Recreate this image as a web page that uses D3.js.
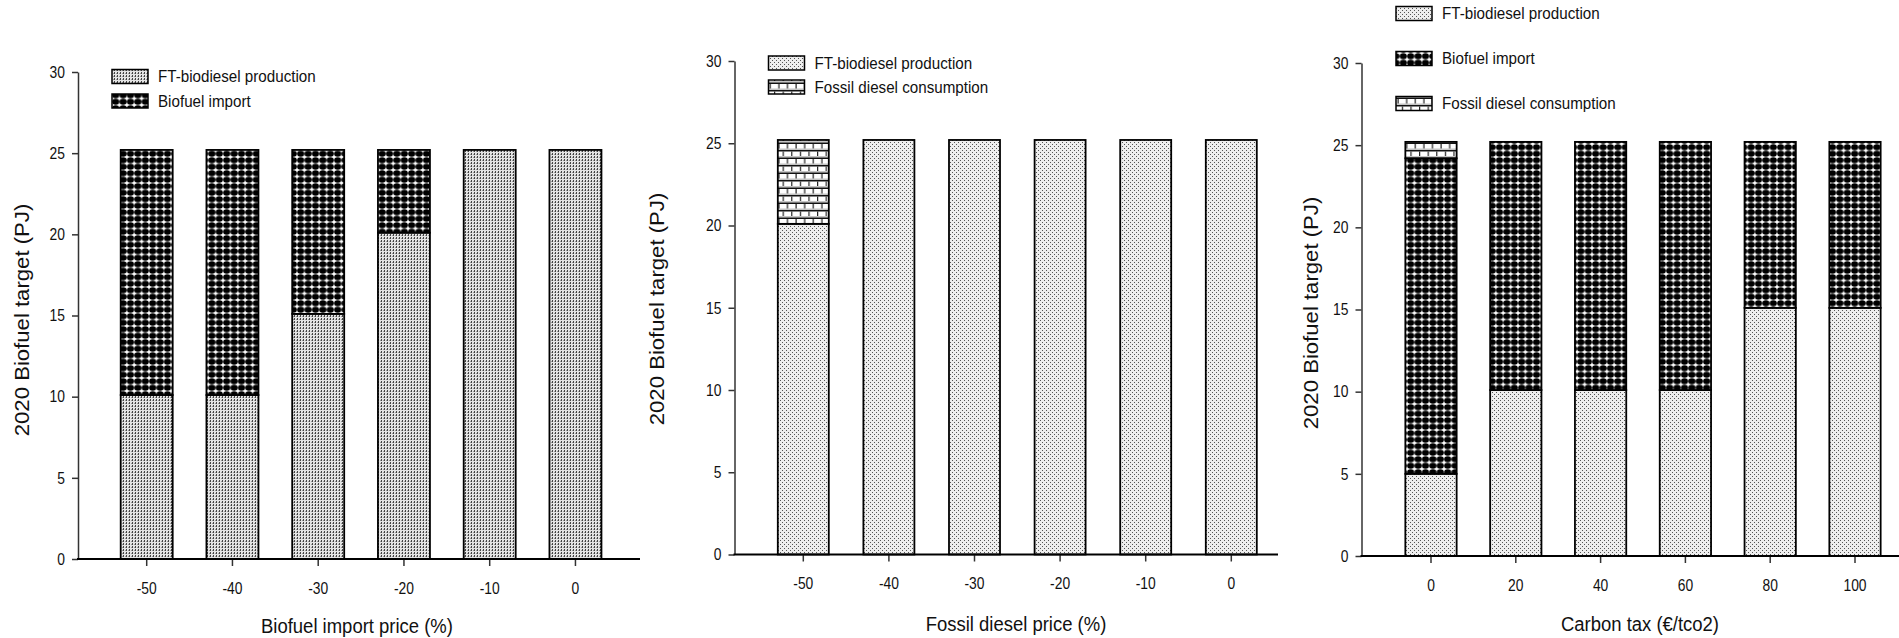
<!DOCTYPE html>
<html>
<head>
<meta charset="utf-8">
<script src="https://cdn.jsdelivr.net/npm/d3@7"></script>
<style>
  html, body { margin: 0; padding: 0; background: #fff; }
  svg { display: block; }
  text { font-family: "Liberation Sans", Arial, sans-serif; }
</style>
</head>
<body>
<svg id="chart" width="1899" height="638"></svg>
<script>
// Scenario categories
const importPriceCats = ["-50", "-40", "-30", "-20", "-10", "0"];
const fossilPriceCats = ["-50", "-40", "-30", "-20", "-10", "0"];
const carbonTaxCats = ["0", "20", "40", "60", "80", "100"];

// Biofuel import price scenarios (PJ)
const importFT = [10.1, 10.1, 15.1, 20.1, 25.2, 25.2];
const importImport = [15.1, 15.1, 10.1, 5.1, 0, 0];

// Fossil diesel price scenarios (PJ)
const fossilFT = [20.1, 25.2, 25.2, 25.2, 25.2, 25.2];
const fossilDiesel = [5.1, 0, 0, 0, 0, 0];

// Carbon tax scenarios (PJ)
const carbonFT = [5.0, 10.1, 10.1, 10.1, 15.1, 15.1];
const carbonImport = [19.2, 15.1, 15.1, 15.1, 10.1, 10.1];
const carbonDiesel = [1.0, 0, 0, 0, 0, 0];

const yTicks = [0, 5, 10, 15, 20, 25, 30];

const svg = d3.select("#chart");
const defs = svg.append("defs");

// horizontally condensed text: position stays put, glyphs are squeezed
function condense(sel, sx) {
  sel.each(function () {
    const t = d3.select(this);
    const x = +(t.attr("x") || 0);
    t.attr("x", x / sx).attr("transform", `scale(${sx},1)`);
  });
}

// --- fill patterns ---
// FT production, vertical dotted stripes
{
  const p = defs.append("pattern").attr("id", "ftStripe").attr("patternUnits", "userSpaceOnUse")
    .attr("width", 3).attr("height", 3);
  p.append("rect").attr("width", 3).attr("height", 3).attr("fill", "#e4e4e4");
  p.append("rect").attr("x", 0).attr("y", 0).attr("width", 1).attr("height", 2).attr("fill", "#444");
  p.append("rect").attr("x", 2).attr("y", 1).attr("width", 1).attr("height", 1).attr("fill", "#9a9a9a");
}
// FT production, fine stipple
{
  const p = defs.append("pattern").attr("id", "ftDots").attr("patternUnits", "userSpaceOnUse")
    .attr("width", 4).attr("height", 4);
  p.append("rect").attr("width", 4).attr("height", 4).attr("fill", "#eeeeee");
  p.append("rect").attr("x", 0).attr("y", 0).attr("width", 1).attr("height", 1).attr("fill", "#555");
  p.append("rect").attr("x", 2).attr("y", 2).attr("width", 1).attr("height", 1).attr("fill", "#555");
}
// Biofuel import, black dot grid
{
  const w = 7.4, h = 6.5;
  const p = defs.append("pattern").attr("id", "imp").attr("patternUnits", "userSpaceOnUse")
    .attr("width", w).attr("height", h).attr("x", 1).attr("y", 1);
  p.append("rect").attr("width", w).attr("height", h).attr("fill", "#fff");
  p.append("ellipse").attr("cx", w / 2).attr("cy", h / 2).attr("rx", 3.55).attr("ry", 2.95).attr("fill", "#000");
}
// Fossil diesel, brick
{
  const w = 8.6, rh = 7.5;
  const p = defs.append("pattern").attr("id", "brick").attr("patternUnits", "userSpaceOnUse")
    .attr("width", w).attr("height", rh * 2);
  p.append("rect").attr("width", w).attr("height", rh * 2).attr("fill", "#fff");
  [0, 1].forEach(r => {
    const y0 = r * rh;
    p.append("rect").attr("x", 0).attr("y", y0).attr("width", w).attr("height", 1.5).attr("fill", "#111");
    p.append("rect").attr("x", 0).attr("y", y0 + 6).attr("width", w).attr("height", 1.5).attr("fill", "#c4c4c4");
    p.append("rect").attr("x", r ? w / 2 : 0).attr("y", y0 + 1.5).attr("width", 1.2).attr("height", 4.5).attr("fill", "#222");
  });
}

function drawPanel(cfg) {
  const g = svg.append("g");
  const y = d3.scaleLinear().domain([0, 30]).range([cfg.y0, cfg.y30]);
  const n = cfg.cats.length;
  const x = d3.scaleBand().domain(cfg.cats)
    .range([cfg.firstTick - cfg.step / 2, cfg.firstTick - cfg.step / 2 + cfg.step * n])
    .paddingInner(1 - cfg.barW / cfg.step).paddingOuter((1 - cfg.barW / cfg.step) / 2);

  const rows = cfg.cats.map((c, i) => {
    const r = { cat: c };
    cfg.series.forEach(s => r[s.key] = s.values[i]);
    return r;
  });
  const stack = d3.stack().keys(cfg.series.map(s => s.key))(rows);

  stack.forEach((layer, li) => {
    const s = cfg.series[li];
    g.append("g").selectAll("rect").data(layer.filter(d => d[1] - d[0] > 0)).join("rect")
      .attr("x", d => x(d.data.cat))
      .attr("width", x.bandwidth())
      .attr("y", d => y(d[1]))
      .attr("height", d => y(d[0]) - y(d[1]))
      .attr("fill", `url(#${s.pattern})`)
      .attr("stroke", "#000")
      .attr("stroke-width", 1.8);
  });

  // y axis
  const ya = g.append("g").attr("transform", `translate(${cfg.axisX},0)`)
    .call(d3.axisLeft(y).tickValues(yTicks).tickSize(6).tickSizeOuter(0).tickPadding(7));
  ya.select(".domain").attr("stroke", "#333").attr("stroke-width", 1.5);
  ya.selectAll(".tick line").attr("stroke", "#333").attr("stroke-width", 1.5);
  ya.selectAll(".tick text").attr("font-family", "Liberation Sans, Arial, sans-serif")
    .attr("font-size", 16.5).attr("fill", "#111").call(condense, 0.84);

  // x axis
  const xa = g.append("g").attr("transform", `translate(0,${cfg.y0})`)
    .call(d3.axisBottom(x).tickSize(7).tickSizeOuter(0).tickPadding(16));
  xa.select(".domain").remove();
  xa.selectAll(".tick line").attr("stroke", "#333").attr("stroke-width", 1.5);
  xa.selectAll(".tick text").attr("font-family", "Liberation Sans, Arial, sans-serif")
    .attr("font-size", 16.5).attr("fill", "#111").call(condense, 0.84);
  g.append("line").attr("x1", cfg.axisX - 1).attr("x2", cfg.xEnd)
    .attr("y1", cfg.y0).attr("y2", cfg.y0).attr("stroke", "#000").attr("stroke-width", 2.2);

  // axis titles
  g.append("text").attr("x", cfg.xTitleX).attr("y", cfg.xTitleY)
    .attr("text-anchor", "middle").attr("font-size", 21).attr("fill", "#111").text(cfg.xTitle)
    .call(condense, 0.88);
  g.append("text")
    .attr("transform", `translate(${cfg.yTitleX},${cfg.yTitleY}) rotate(-90) scale(1.08,1)`)
    .attr("text-anchor", "middle").attr("dominant-baseline", "central")
    .attr("font-size", 20.5).attr("fill", "#111").text("2020 Biofuel target (PJ)");

  // legend
  cfg.legend.forEach((it, i) => {
    const ly = cfg.legendY[i];
    g.append("rect").attr("x", cfg.legendX).attr("y", ly - 7).attr("width", 36).attr("height", 14)
      .attr("fill", `url(#${it.pattern})`).attr("stroke", "#000").attr("stroke-width", 1.5);
    g.append("text").attr("x", cfg.legendX + 46).attr("y", ly)
      .attr("dominant-baseline", "central").attr("font-size", 16.5).attr("fill", "#111").text(it.label)
      .call(condense, 0.92);
  });
}

drawPanel({
  cats: importPriceCats,
  series: [
    { key: "ft", values: importFT, pattern: "ftStripe" },
    { key: "imp", values: importImport, pattern: "imp" }
  ],
  y0: 559, y30: 72, axisX: 78, xEnd: 640,
  firstTick: 146.7, step: 85.75, barW: 52,
  xTitle: "Biofuel import price (%)", xTitleX: 357, xTitleY: 633,
  yTitleX: 22, yTitleY: 320,
  legendX: 112, legendY: [76.5, 101],
  legend: [
    { label: "FT-biodiesel production", pattern: "ftStripe" },
    { label: "Biofuel import", pattern: "imp" }
  ]
});

drawPanel({
  cats: fossilPriceCats,
  series: [
    { key: "ft", values: fossilFT, pattern: "ftDots" },
    { key: "fos", values: fossilDiesel, pattern: "brick" }
  ],
  y0: 554.5, y30: 61, axisX: 734.5, xEnd: 1278,
  firstTick: 803.3, step: 85.6, barW: 51,
  xTitle: "Fossil diesel price (%)", xTitleX: 1016, xTitleY: 631,
  yTitleX: 657, yTitleY: 309,
  legendX: 768.5, legendY: [63, 87],
  legend: [
    { label: "FT-biodiesel production", pattern: "ftDots" },
    { label: "Fossil diesel consumption", pattern: "brick" }
  ]
});

drawPanel({
  cats: carbonTaxCats,
  series: [
    { key: "ft", values: carbonFT, pattern: "ftDots" },
    { key: "imp", values: carbonImport, pattern: "imp" },
    { key: "fos", values: carbonDiesel, pattern: "brick" }
  ],
  y0: 556, y30: 63, axisX: 1361.5, xEnd: 1899,
  firstTick: 1431, step: 84.8, barW: 51.3,
  xTitle: "Carbon tax (€/tco2)", xTitleX: 1640, xTitleY: 631,
  yTitleX: 1311, yTitleY: 313,
  legendX: 1396, legendY: [13.5, 58.5, 103.5],
  legend: [
    { label: "FT-biodiesel production", pattern: "ftDots" },
    { label: "Biofuel import", pattern: "imp" },
    { label: "Fossil diesel consumption", pattern: "brick" }
  ]
});
</script>
</body>
</html>
